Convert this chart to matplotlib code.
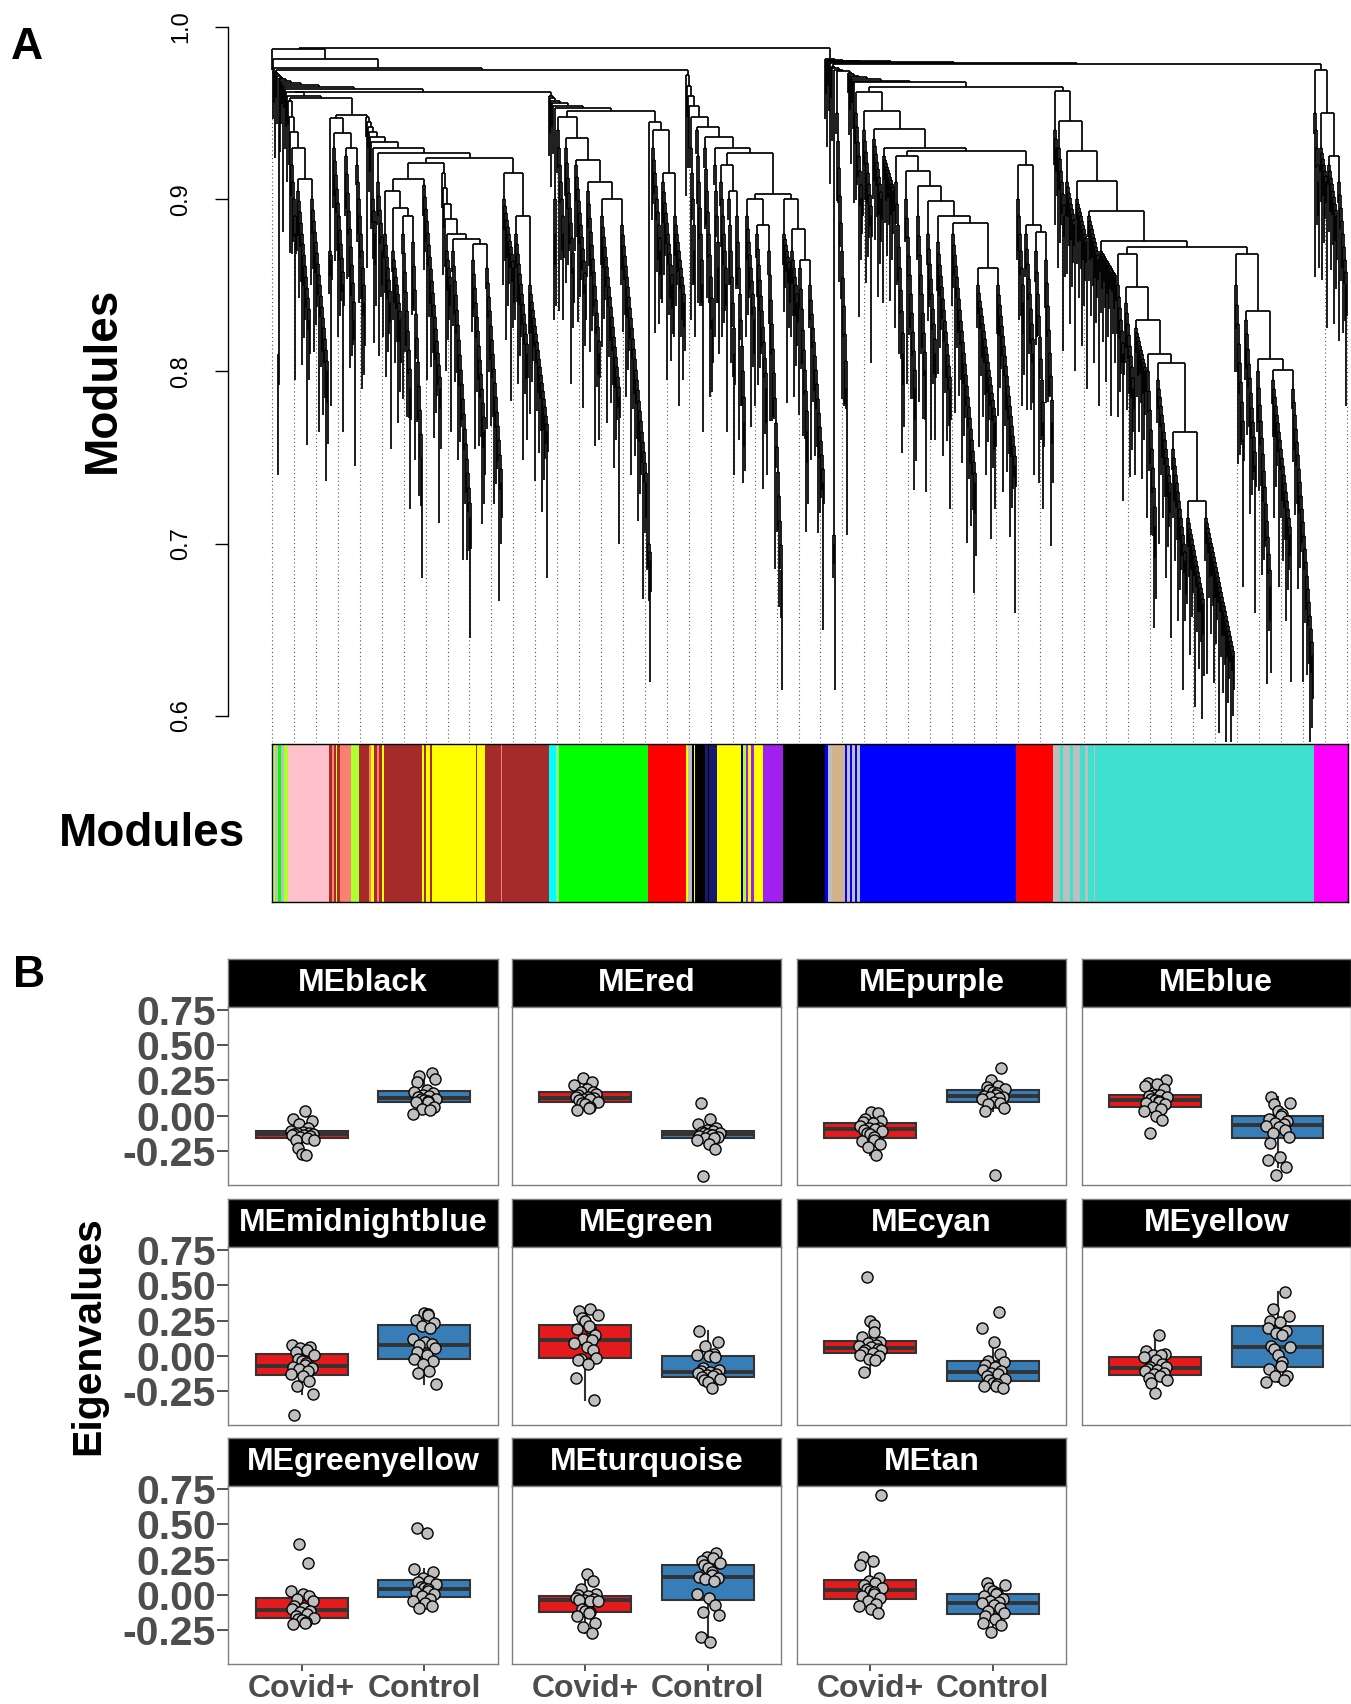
import numpy as np
import matplotlib.pyplot as plt
from matplotlib.collections import LineCollection

plt.rcParams['font.family'] = ['Liberation Sans', 'DejaVu Sans']

W, H = 1351, 1704


def comb(n, top, bot):
    # run of n genes joining one by one, from top height down to bot
    return chain(top, bot, [None] * n)


def chain(top, bot, parts):
    hs = np.linspace(top, bot, len(parts) - 1)
    node = parts[-1]
    for k in range(len(parts) - 2, -1, -1):
        node = (hs[k], parts[k], node)
    return node


def M(h, a, b):
    return (h, a, b)


## PANEL A : gene tree (merge heights)
# left half
B_pink = chain(0.957, 0.93, [None] * 3 + [comb(6, 0.92, 0.88),
               M(0.912, comb(14, 0.905, 0.83), comb(18, 0.90, 0.80))])
C_salmon = chain(0.947, 0.93, [comb(4, 0.87, 0.865), comb(12, 0.93, 0.85),
                 comb(11, 0.925, 0.83), comb(10, 0.92, 0.84)])
D1a = M(0.912, chain(0.905, 0.895, [comb(8, 0.88, 0.84), comb(10, 0.87, 0.83),
                                    M(0.89, comb(10, 0.88, 0.79), comb(11, 0.875, 0.75))]),
        comb(19, 0.908, 0.79))
D1b = chain(0.915, 0.88, [None] * 4 + [comb(6, 0.87, 0.85),
            M(0.877, comb(20, 0.87, 0.715),
              M(0.874, comb(14, 0.865, 0.765), comb(17, 0.86, 0.735)))])
D3 = chain(0.915, 0.89, [comb(12, 0.9, 0.86), comb(14, 0.88, 0.81), comb(20, 0.85, 0.765)])
D_brown = chain(0.948, 0.927, [None] * 6 + [comb(5, 0.9, 0.88), comb(7, 0.91, 0.87),
                M(0.924, M(0.921, D1a, D1b), D3)])
E1 = chain(0.948, 0.91, [comb(8, 0.94, 0.88), comb(10, 0.93, 0.86), comb(12, 0.92, 0.85),
           comb(14, 0.905, 0.81), M(0.9, comb(20, 0.89, 0.785), comb(27, 0.885, 0.735))])
E2 = M(0.945, comb(4, 0.70, 0.69),
       chain(0.94, 0.915, [comb(10, 0.93, 0.87), comb(12, 0.91, 0.85), comb(12, 0.89, 0.84)]))
E_green = chain(0.96, 0.953, [None] * 5 + [comb(3, 0.9, 0.88), M(0.951, E1, E2)])
L2a = chain(0.92, 0.905, [comb(8, 0.91, 0.85), comb(8, 0.9, 0.81), comb(10, 0.89, 0.77)])
L2b1 = chain(0.9, 0.885, [comb(10, 0.89, 0.83), comb(12, 0.88, 0.79), comb(15, 0.87, 0.685)])
L2b2 = chain(0.90, 0.865, [comb(8, 0.88, 0.86), comb(8, 0.87, 0.84),
             comb(10, 0.86, 0.765), comb(16, 0.85, 0.735)])
L2 = chain(0.972, 0.93, [None] * 4 + [comb(6, 0.93, 0.87), comb(8, 0.94, 0.85),
           comb(10, 0.93, 0.83), comb(6, 0.92, 0.86),
           M(0.927, L2a, M(0.903, L2b1, L2b2))])
X1 = chain(0.962, 0.960, [None, None, M(0.959, B_pink, M(0.949, C_salmon, D_brown))])
LA = chain(0.974, 0.964, [None] * 3 + [comb(2, 0.81, 0.805)] + [None] * 6 + [M(0.9625, X1, E_green)])
LEFT = chain(0.987, 0.976, [None] * 3 + [M(0.975, LA, L2)])

# right half
B1 = chain(0.925, 0.89, [comb(10, 0.91, 0.81), comb(12, 0.90, 0.79), comb(10, 0.89, 0.80),
           comb(10, 0.88, 0.81), comb(15, 0.875, 0.79),
           M(0.886, comb(25, 0.88, 0.735), M(0.86, comb(20, 0.85, 0.77), comb(20, 0.85, 0.745)))])
B2 = chain(0.92, 0.885, [comb(8, 0.9, 0.84), comb(10, 0.88, 0.81),
           M(0.881, comb(10, 0.87, 0.77), comb(9, 0.865, 0.77))])
BLUE = chain(0.962, 0.93, [comb(8, 0.95, 0.90), comb(10, 0.94, 0.89), comb(10, 0.935, 0.90),
             comb(12, 0.925, 0.905), M(0.928, B1, B2)])
T1_deep = chain(0.805, 0.725, [comb(15, 0.795, 0.73), comb(15, 0.755, 0.69),
                comb(18, 0.715, 0.665), comb(30, 0.715, 0.635)])
T1 = chain(0.868, 0.83, [comb(8, 0.85, 0.81), comb(10, 0.84, 0.79), comb(12, 0.825, 0.80),
           M(0.81, comb(10, 0.80, 0.71), T1_deep)])
T2 = chain(0.868, 0.835, [comb(10, 0.85, 0.76), comb(12, 0.83, 0.745),
           M(0.807, comb(15, 0.80, 0.675), M(0.801, comb(20, 0.795, 0.705), comb(22, 0.79, 0.635)))])
TURQ = chain(0.963, 0.876, [comb(4, 0.94, 0.93), comb(8, 0.93, 0.89), comb(10, 0.91, 0.885),
             comb(12, 0.9, 0.875), comb(12, 0.89, 0.865), comb(17, 0.87, 0.855), M(0.872, T1, T2)])
MAG = chain(0.975, 0.925, [comb(6, 0.95, 0.91), comb(8, 0.93, 0.91),
            comb(10, 0.92, 0.89), comb(10, 0.91, 0.85)])
RLEFT = chain(0.977, 0.968, [None, None, comb(3, 0.705, 0.70), comb(12, 0.95, 0.79)]
              + [None] * 7 + [M(0.965, BLUE, TURQ)])
RIGHT = chain(0.9815, 0.979, [None] * 6 + [M(0.9785, RLEFT, MAG)])
TREE = M(0.988, LEFT, RIGHT)

# leaf hang lengths (cycled) and guide count
hair = [0.012, 0.035, 0.02, 0.05, 0.014, 0.028, 0.07, 0.018, 0.042, 0.025, 0.012, 0.085]
n_guides = 50

# module colour strip under the tree (R colour names, widths in genes)
strip_cols = ['greenyellow', 'grey', 'green', 'grey', 'greenyellow', 'pink',
              'brown', 'salmon', 'brown', 'yellow', 'brown', 'salmon', 'greenyellow', 'brown',
              'brown', 'salmon', 'yellow', 'brown', 'salmon', 'brown', 'yellow', 'brown',
              'yellow', 'brown', 'yellow', 'brown', 'yellow', 'yellow', 'brown', 'yellow',
              'brown', 'salmon', 'brown', 'cyan', 'lightgreen', 'green', 'red',
              'yellow', 'grey', 'black', 'yellow', 'black', 'black',
              'midnightblue', 'black', 'midnightblue', 'yellow', 'black',
              'greenyellow', 'purple', 'yellow', 'purple', 'yellow', 'purple', 'black',
              'blue', 'grey', 'tan', 'blue', 'grey', 'blue', 'grey', 'blue', 'grey', 'blue',
              'blue', 'red', 'grey', 'turquoise', 'grey', 'turquoise', 'grey', 'turquoise',
              'grey', 'turquoise', 'grey', 'turquoise', 'magenta']
strip_w = [3, 3, 3, 3, 4, 41,
           3, 2, 2, 1, 3, 11, 8, 7,
           3, 2, 3, 3, 2, 3, 2, 38,
           2, 2, 4, 2, 3, 41, 1, 8,
           16, 1, 47, 7, 3, 89, 38,
           2, 4, 2, 1, 5, 5,
           3, 1, 8, 24, 2,
           3, 2, 3, 3, 9, 20, 42,
           3, 4, 13, 2, 3, 2, 3, 2, 3, 5,
           151, 37, 7, 3, 7, 3, 7, 5,
           3, 6, 1, 219, 34]
R_COLS = {'grey': '#BEBEBE', 'green': '#00FF00', 'purple': '#A020F0'}

## PANEL B : module eigengenes, Covid+ vs Control
modules = ['MEblack', 'MEred', 'MEpurple', 'MEblue', 'MEmidnightblue', 'MEgreen',
           'MEcyan', 'MEyellow', 'MEgreenyellow', 'MEturquoise', 'MEtan']
groups = ['Covid+', 'Control']

me_black_covid = [0.03, -0.02, -0.035, -0.06, -0.09, -0.11, -0.115, -0.12, -0.125, -0.13, -0.13,
                  -0.135, -0.14, -0.145, -0.15, -0.16, -0.17, -0.175, -0.23, -0.27, -0.28]
me_black_ctrl = [0.30, 0.28, 0.26, 0.24, 0.18, 0.17, 0.16, 0.15, 0.14, 0.13, 0.12, 0.12, 0.11,
                 0.105, 0.10, 0.095, 0.06, 0.05, 0.04, 0.01]
me_red_covid = [0.265, 0.24, 0.215, 0.19, 0.17, 0.165, 0.155, 0.145, 0.135, 0.13, 0.125, 0.12,
                0.115, 0.11, 0.1, 0.09, 0.08, 0.065, 0.055, 0.04]
me_red_ctrl = [0.09, -0.025, -0.06, -0.09, -0.1, -0.11, -0.115, -0.12, -0.125, -0.13, -0.135,
               -0.14, -0.145, -0.15, -0.155, -0.16, -0.17, -0.2, -0.235, -0.43]
me_purple_covid = [0.025, 0.02, -0.02, -0.035, -0.045, -0.05, -0.07, -0.085, -0.09, -0.095, -0.1,
                   -0.11, -0.12, -0.13, -0.15, -0.17, -0.18, -0.2, -0.225, -0.275]
me_purple_ctrl = [0.335, 0.255, 0.21, 0.2, 0.19, 0.18, 0.17, 0.16, 0.15, 0.14, 0.135, 0.13, 0.125,
                  0.115, 0.1, 0.09, 0.08, 0.055, 0.03, -0.42]
me_blue_covid = [0.25, 0.235, 0.225, 0.21, 0.19, 0.15, 0.145, 0.14, 0.13, 0.12, 0.11, 0.105, 0.1,
                 0.09, 0.08, 0.06, 0.05, 0.03, 0.0, -0.03, -0.125]
me_blue_ctrl = [0.13, 0.09, 0.08, 0.03, 0.01, -0.005, -0.02, -0.04, -0.05, -0.06, -0.07, -0.08,
                -0.1, -0.12, -0.15, -0.19, -0.295, -0.315, -0.365, -0.42]
me_mnb_covid = [0.075, 0.06, 0.055, 0.045, 0.03, 0.01, -0.02, -0.035, -0.05, -0.065, -0.075,
                -0.085, -0.095, -0.11, -0.13, -0.14, -0.18, -0.215, -0.27, -0.42]
me_mnb_ctrl = [0.305, 0.30, 0.29, 0.255, 0.235, 0.21, 0.2, 0.12, 0.1, 0.085, 0.075, 0.055, 0.03,
               0.005, -0.02, -0.035, -0.06, -0.105, -0.12, -0.2]
me_green_covid = [0.33, 0.32, 0.29, 0.27, 0.25, 0.2, 0.21, 0.19, 0.15, 0.12, 0.11, 0.09, 0.06,
                  0.04, -0.02, -0.015, -0.03, -0.055, -0.155, -0.315]
me_green_ctrl = [0.18, 0.1, 0.07, 0.015, 0.005, 0.0, -0.01, -0.085, -0.1, -0.11, -0.115, -0.12,
                 -0.13, -0.135, -0.145, -0.15, -0.16, -0.17, -0.185, -0.225]
me_cyan_covid = [0.56, 0.245, 0.22, 0.17, 0.135, 0.1, 0.09, 0.08, 0.07, 0.06, 0.05, 0.045, 0.04,
                 0.03, 0.02, 0.01, 0.0, -0.02, -0.03, -0.115]
me_cyan_ctrl = [0.31, 0.2, 0.1, 0.015, -0.035, -0.04, -0.065, -0.08, -0.1, -0.11, -0.12, -0.13,
                -0.14, -0.16, -0.17, -0.19, -0.2, -0.21, -0.215, -0.225]
me_yellow_covid = [0.145, 0.035, 0.015, 0.01, 0.005, -0.01, -0.03, -0.06, -0.075, -0.08, -0.09,
                   -0.1, -0.11, -0.12, -0.13, -0.14, -0.155, -0.17, -0.19, -0.265]
me_yellow_ctrl = [0.455, 0.33, 0.285, 0.25, 0.24, 0.2, 0.175, 0.16, 0.15, 0.07, 0.06, 0.05, 0.01,
                  -0.04, -0.07, -0.09, -0.14, -0.145, -0.17, -0.185]
me_gy_covid = [0.36, 0.225, 0.03, 0.005, -0.005, -0.03, -0.04, -0.075, -0.09, -0.1, -0.11, -0.12,
               -0.135, -0.15, -0.16, -0.17, -0.18, -0.19, -0.195, -0.205]
me_gy_ctrl = [0.475, 0.44, 0.185, 0.165, 0.12, 0.1, 0.09, 0.08, 0.06, 0.05, 0.04, 0.03, 0.02,
              0.005, -0.01, -0.025, -0.04, -0.06, -0.075, -0.09]
me_turq_covid = [0.15, 0.1, 0.04, 0.01, 0.0, -0.01, -0.02, -0.03, -0.035, -0.045, -0.033, -0.04,
                 -0.1, -0.11, -0.12, -0.13, -0.15, -0.195, -0.23, -0.27]
me_turq_ctrl = [0.295, 0.27, 0.26, 0.24, 0.225, 0.21, 0.19, 0.16, 0.14, 0.13, 0.12, 0.11, 0.1,
                0.005, -0.02, -0.07, -0.12, -0.145, -0.3, -0.33]
me_tan_covid = [0.705, 0.27, 0.24, 0.21, 0.12, 0.1, 0.085, 0.07, 0.05, 0.04, 0.03, 0.02, 0.005,
                -0.01, -0.02, -0.04, -0.065, -0.08, -0.1, -0.125]
me_tan_ctrl = [0.085, 0.07, 0.05, 0.03, 0.015, 0.005, -0.01, -0.03, -0.045, -0.05, -0.06, -0.07,
               -0.09, -0.11, -0.13, -0.15, -0.17, -0.2, -0.21, -0.265]

covid_vals = [me_black_covid, me_red_covid, me_purple_covid, me_blue_covid, me_mnb_covid,
              me_green_covid, me_cyan_covid, me_yellow_covid, me_gy_covid, me_turq_covid,
              me_tan_covid]
ctrl_vals = [me_black_ctrl, me_red_ctrl, me_purple_ctrl, me_blue_ctrl, me_mnb_ctrl,
             me_green_ctrl, me_cyan_ctrl, me_yellow_ctrl, me_gy_ctrl, me_turq_ctrl, me_tan_ctrl]
jitter = [0.03, -0.07, 0.08, -0.02, 0.05, -0.09, 0.01, 0.06, -0.04, 0.09,
          -0.06, 0.02, -0.08, 0.07, -0.01, 0.04, -0.05, 0.1, -0.03, 0.0, 0.035]


def box(x0, y0, x1, y1):
    return [x0 / W, 1 - y1 / H, (x1 - x0) / W, (y1 - y0) / H]


fig = plt.figure(figsize=(W / 100, H / 100), dpi=100)

#%% dendrogram
segs = []
leaf_bottom = []


def layout(node, parent_h):
    if node is None:
        i = len(leaf_bottom)
        hb = parent_h - hair[i % len(hair)]
        leaf_bottom.append(hb)
        return i, hb
    h, a, b = node
    xa, ha = layout(a, h)
    xb, hb = layout(b, h)
    segs.append([(xa, h), (xb, h)])
    segs.append([(xa, h), (xa, ha)])
    segs.append([(xb, h), (xb, hb)])
    return (xa + xb) / 2, h


layout(TREE, TREE[0])
n_leaf = len(leaf_bottom)

ppu = (716 - 27) / 0.4          # pixels per unit of height
y_top = 1.0 + 27 / ppu
y_bot = 0.6 - (742 - 716) / ppu
axd = fig.add_axes(box(228, 0, 1351, 742))
gx = np.linspace(0, n_leaf - 1, n_guides).round().astype(int)
for g in gx:
    axd.plot([g, g], [y_bot, leaf_bottom[g]], color='#555555', lw=0.8, ls=(0, (1, 2.5)))
axd.add_collection(LineCollection(segs, colors='black', linewidths=1.25))
axd.set_xlim(-44, n_leaf + 3)
axd.set_ylim(y_bot, y_top)
for s in ['top', 'right', 'bottom']:
    axd.spines[s].set_visible(False)
axd.spines['left'].set_bounds(0.6, 1.0)
axd.spines['left'].set_linewidth(1.0)
axd.set_xticks([])
axd.set_yticks([0.6, 0.7, 0.8, 0.9, 1.0])
axd.set_yticklabels(['0.6', '0.7', '0.8', '0.9', '1.0'], rotation=90, va='center')
axd.tick_params(axis='y', length=9.5, width=1.0, labelsize=17, pad=16)

#%% colour strip
axc = fig.add_axes(box(271.5, 744, 1347.5, 902))
starts = np.concatenate([[0], np.cumsum(strip_w)[:-1]]) - 0.5
axc.bar(starts, 1, width=strip_w, align='edge',
        color=[R_COLS.get(c, c) for c in strip_cols], linewidth=0)
axc.set_xlim(-0.5, n_leaf - 0.5)
axc.set_ylim(0, 1)
axc.set_xticks([])
axc.set_yticks([])
for s in axc.spines.values():
    s.set_linewidth(1.0)

fig.text(103 / W, 1 - 380 / H, 'Modules', rotation=90, ha='center', va='center',
         fontsize=33, fontweight='bold')
fig.text(245 / W, 1 - 834 / H, 'Modules', ha='right', va='center',
         fontsize=33, fontweight='bold')
fig.text(11 / W, 1 - 27 / H, 'A', ha='left', va='top', fontsize=32, fontweight='bold')

#%% eigengene facets
col_left = [228.2, 511.9, 796.7, 1081.5]
row_top = [958.6, 1198.8, 1437.9]
pw, sh, ph = 269.5, 48, 178
grey_txt = '#4D4D4D'

for k, name in enumerate(modules):
    r, c = divmod(k, 4)
    x0, y0 = col_left[c], row_top[r]
    sax = fig.add_axes(box(x0, y0, x0 + pw, y0 + sh))
    sax.set_facecolor('black')
    sax.set_xticks([])
    sax.set_yticks([])
    for s in sax.spines.values():
        s.set_color('#7F7F7F')
        s.set_linewidth(1.0)
    sax.text(0.5, 0.5, name, color='white', fontsize=23, fontweight='bold',
             ha='center', va='center', transform=sax.transAxes)

    ax = fig.add_axes(box(x0, y0 + sh, x0 + pw, y0 + sh + ph))
    cv, ct = covid_vals[k], ctrl_vals[k]
    bp = ax.boxplot([cv, ct], positions=[1, 2], widths=0.75, patch_artist=True,
                    showfliers=False, showcaps=False, whis=1.5,
                    medianprops=dict(color='#333333', linewidth=2.8),
                    whiskerprops=dict(color='#333333', linewidth=1.5),
                    boxprops=dict(edgecolor='#333333', linewidth=1.5))
    for patch, col in zip(bp['boxes'], ['#E41A1C', '#377EB8']):
        patch.set_facecolor(col)
    for g, vals in enumerate([cv, ct]):
        off = [jitter[(i + 3 * k + 7 * g) % len(jitter)] for i in range(len(vals))]
        ax.scatter(np.array(off) + g + 1, vals, s=64, c='#BEBEBE', edgecolors='black',
                   linewidths=1.0, zorder=3)
    ax.set_xlim(0.4, 2.6)
    ax.set_ylim(-0.488, 0.773)
    for s in ax.spines.values():
        s.set_color('#7F7F7F')
        s.set_linewidth(1.0)
    ax.set_yticks([-0.25, 0.0, 0.25, 0.5, 0.75])
    ax.set_xticks([1, 2])
    if c == 0:
        ax.set_yticklabels(['-0.25', '0.00', '0.25', '0.50', '0.75'])
        ax.tick_params(axis='y', length=8, width=1.2, color='#333333', labelsize=29.5,
                       labelcolor=grey_txt, pad=1)
        for lab in ax.get_yticklabels():
            lab.set_fontweight('bold')
    else:
        ax.tick_params(axis='y', left=False, labelleft=False)
    if r == 2:
        ax.set_xticklabels(groups)
        ax.tick_params(axis='x', length=5, width=1.2, color='#333333', labelsize=23,
                       labelcolor=grey_txt, pad=2)
        for lab in ax.get_xticklabels():
            lab.set_fontweight('bold')
    else:
        ax.tick_params(axis='x', bottom=False, labelbottom=False)

fig.text(88 / W, 1 - 1336 / H, 'Eigenvalues', rotation=90, ha='center', va='center',
         fontsize=29.5, fontweight='bold')
fig.text(13 / W, 1 - 955 / H, 'B', ha='left', va='top', fontsize=32, fontweight='bold')

fig.savefig('out.png', dpi=100)
